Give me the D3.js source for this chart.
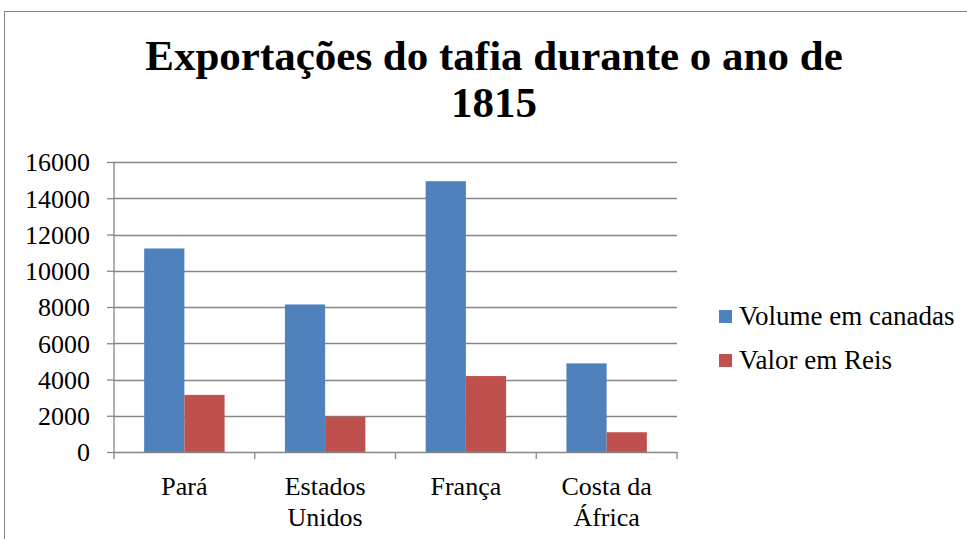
<!DOCTYPE html>
<html>
<head>
<meta charset="utf-8">
<script src="https://cdn.jsdelivr.net/npm/d3@7"></script>
<style>
  body { margin: 0; background: #fff; }
</style>
</head>
<body>
<div id="chart"></div>
<script>
var categories = [["Pará"], ["Estados", "Unidos"], ["França"], ["Costa da", "África"]];
var seriesNames = ["Volume em canadas", "Valor em Reis"];
var volume = [11230, 8140, 14940, 4890];
var valor = [3150, 1950, 4190, 1090];
var yTicks = [0, 2000, 4000, 6000, 8000, 10000, 12000, 14000, 16000];
var colors = ["#4F81BD", "#C0504D"];

var serif = "'Liberation Serif', 'Times New Roman', serif";

var svg = d3.select("#chart")
        .append("svg")
        .attr("width", 967)
        .attr("height", 539);

// outer chart border
svg.append("rect")
    .attr("x", 4.5)
    .attr("y", 11.5)
    .attr("width", 980)
    .attr("height", 560)
    .attr("fill", "none")
    .attr("stroke", "#868686")
    .attr("stroke-width", 1);

var margin = {top: 162, left: 114};
var width = 677 - 114;
var height = 452 - 162;

var g = svg.append("g")
    .attr("transform", "translate(" + margin.left + "," + margin.top + ")");

var keys = categories.map(function(c) { return c.join(" "); });

var x0 = d3.scaleBand()
    .domain(keys)
    .range([0, width]);

// gap width 150% -> group of 2 bars takes 2/3.5 of the band
var pad = x0.bandwidth() * 0.75 / 3.5;
var x1 = d3.scaleBand()
    .domain(seriesNames)
    .range([pad, x0.bandwidth() - pad]);

var y = d3.scaleLinear()
    .domain([0, 16000])
    .range([height, 0]);

// gridlines
g.selectAll(".grid")
    .data(yTicks.slice(1))
  .enter().append("line")
    .attr("x1", 0)
    .attr("x2", width)
    .attr("y1", function(d) { return Math.round(y(d)) + 0.5; })
    .attr("y2", function(d) { return Math.round(y(d)) + 0.5; })
    .attr("stroke", "#868686")
    .attr("stroke-width", 1.3);

var data = keys.map(function(k, i) {
  return {key: k, values: [volume[i], valor[i]]};
});

var groups = g.selectAll(".cat")
    .data(data)
  .enter().append("g")
    .attr("transform", function(d) { return "translate(" + x0(d.key) + ",0)"; });

groups.selectAll("rect")
    .data(function(d) { return d.values.map(function(v, i) { return {s: seriesNames[i], v: v, i: i}; }); })
  .enter().append("rect")
    .attr("x", function(d) { return x1(d.s); })
    .attr("y", function(d) { return y(d.v); })
    .attr("width", x1.bandwidth())
    .attr("height", function(d) { return height - y(d.v); })
    .attr("fill", function(d) { return colors[d.i]; });

// y axis
var yAxis = g.append("g")
    .call(d3.axisLeft(y).tickValues(yTicks).tickSize(7).tickPadding(17).tickFormat(d3.format("d")));
yAxis.select(".domain").attr("stroke", "#868686").attr("stroke-width", 1.3).attr("d", "M0,0V" + height);
yAxis.selectAll(".tick line").attr("stroke", "#868686").attr("stroke-width", 1.3);
yAxis.selectAll(".tick text")
    .attr("dy", "0.34em")
    .style("font-size", "26px")
    .style("font-family", serif)
    .attr("fill", "#000");

// x axis
var xAxis = g.append("g")
    .attr("transform", "translate(0," + height + ")");
xAxis.append("line")
    .attr("x1", 0).attr("x2", width)
    .attr("y1", 0.5).attr("y2", 0.5)
    .attr("stroke", "#868686").attr("stroke-width", 1.3);
xAxis.selectAll(".xt")
    .data(d3.range(keys.length + 1))
  .enter().append("line")
    .attr("x1", function(i) { return i * x0.step(); })
    .attr("x2", function(i) { return i * x0.step(); })
    .attr("y1", 0).attr("y2", 7)
    .attr("stroke", "#868686").attr("stroke-width", 1.3);

var labels = xAxis.selectAll(".xl")
    .data(categories)
  .enter().append("text")
    .attr("x", function(d, i) { return x0(keys[i]) + x0.bandwidth() / 2; })
    .attr("y", 43)
    .attr("text-anchor", "middle")
    .style("font-size", "26px")
    .style("font-family", serif);
labels.selectAll("tspan")
    .data(function(d) { return d; })
  .enter().append("tspan")
    .attr("x", function() { return d3.select(this.parentNode).attr("x"); })
    .attr("dy", function(d, i) { return i === 0 ? 0 : 31; })
    .text(function(d) { return d; });

// legend
var legend = svg.append("g")
    .attr("transform", "translate(719,310)");
seriesNames.forEach(function(name, i) {
  legend.append("rect")
      .attr("x", 0)
      .attr("y", i * 44)
      .attr("width", 13)
      .attr("height", 13)
      .attr("fill", colors[i]);
  legend.append("text")
      .attr("x", 20)
      .attr("y", i * 44 + 15)
      .style("font-size", "27px")
      .style("font-family", serif)
      .text(name);
});

// title
svg.append("text")
    .attr("x", 494)
    .attr("y", 70)
    .attr("text-anchor", "middle")
    .style("font-size", "43px")
    .style("font-weight", "bold")
    .style("font-family", serif)
    .text("Exportações do tafia durante o ano de");
svg.append("text")
    .attr("x", 494)
    .attr("y", 117)
    .attr("text-anchor", "middle")
    .style("font-size", "43px")
    .style("font-weight", "bold")
    .style("font-family", serif)
    .text("1815");
</script>
</body>
</html>
